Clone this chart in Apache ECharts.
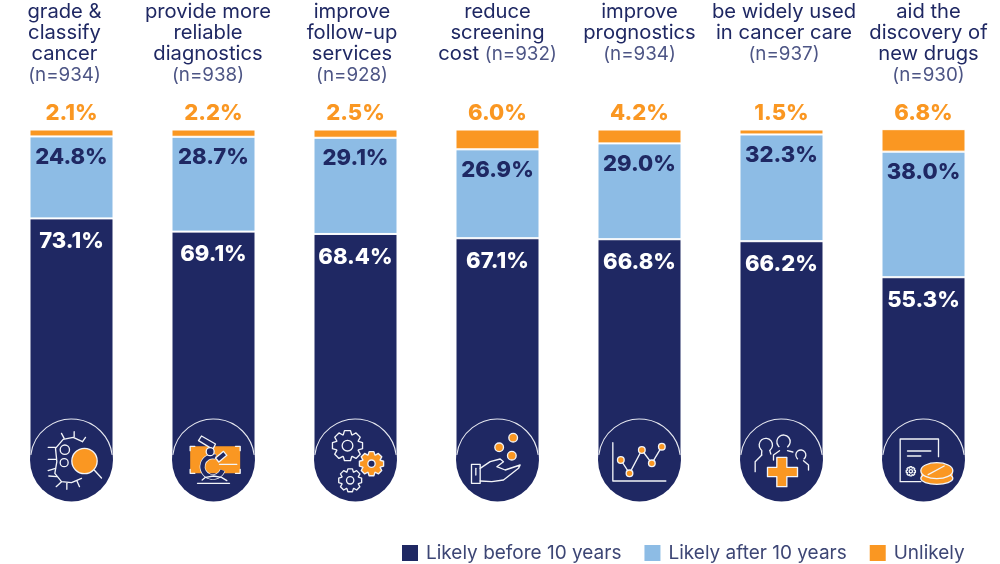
<!DOCTYPE html>
<html><head><meta charset="utf-8">
<style>html,body{margin:0;padding:0;background:#fff}#c{width:1000px;height:564px}</style>
<script src="https://cdn.jsdelivr.net/npm/echarts@6/dist/echarts.min.js"></script>
</head><body><div id="c"></div>
<script>
const categories=[
 ["grade &","classify","cancer","(n=934)"],
 ["provide more","reliable","diagnostics","(n=938)"],
 ["improve","follow-up","services","(n=928)"],
 ["reduce","screening","cost (n=932)"],
 ["improve","prognostics","(n=934)"],
 ["be widely used","in cancer care","(n=937)"],
 ["aid the","discovery of","new drugs","(n=930)"]
];
const likelyBefore=[73.1,69.1,68.4,67.1,66.8,66.2,55.3];
const likelyAfter=[24.8,28.7,29.1,26.9,29.0,32.3,38.0];
const unlikely=[2.1,2.2,2.5,6.0,4.2,1.5,6.8];
const seriesNames=["Likely before 10 years","Likely after 10 years","Unlikely"];

const NAVY='#1f2863',BLUE='#8dbce5',ORANGE='#fa9722',W='#f2f4f8';
const FONT='Inter';
// header text sits a little off each bar's centre in the reference (px, + = right)
const headerShift=[-7,-5.5,-3.5,0,0,2.5,5];

// small drawing helpers: icon parts in a 3x local space around each circle centre
const st=(fill,lw)=>({fill:fill||'none',stroke:W,lineWidth:lw||4,lineCap:'round',lineJoin:'round'});
const pl=(p,c)=>({type:'polyline',shape:{points:p},style:st(null,c)});
const pg=(p,f,c)=>({type:'polygon',shape:{points:p},style:st(f,c)});
const ci=(x,y,r,f,c)=>({type:'circle',shape:{cx:x,cy:y,r:r},style:st(f,c)});
function gear(x,y,R,hole,f){
  const pts=[],n=8,r=R*0.76;
  for(let i=0;i<n;i++){const a=i/n*Math.PI*2,d=Math.PI/n;
    [[r,-0.95],[R,-0.5],[R,0.5],[r,0.95]].forEach(q=>pts.push([x+q[0]*Math.cos(a+q[1]*d),y+q[0]*Math.sin(a+q[1]*d)]));}
  return [pg(pts,f||NAVY),ci(x,y,hole,NAVY)];
}
const icons=[
 ()=>[
  pl([[33,-55],[5,-68],[-25,-62],[-48,-35],[-44,5],[-50,40],[-30,65],[0,68],[30,55]]),
  ...[[-22,-65,-30,-80],[8,-70,8,-85],[33,-55,42,-68],[-48,-38,-70,-38],[-46,-2,-70,-2],[-48,25,-70,32],[-44,50,-68,48],[-30,65,-46,80],[-14,70,-14,88],[16,62,24,80]].map(s=>({type:'line',shape:{x1:s[0],y1:s[1],x2:s[2],y2:s[3]},style:st()})),
  ci(-20,-31,14),ci(-22,8,12),
  ci(39,3,38,ORANGE,4),
  {type:'line',shape:{x1:68,y1:30,x2:90,y2:54},style:st()}
 ],
 ()=>[
  {type:'rect',shape:{x:-70,y:-41,width:150,height:81},style:{fill:ORANGE}},
  pl([[-70,-28],[-70,-41],[-56,-41]]),pl([[66,-41],[80,-41],[80,-28]]),pl([[-70,28],[-70,40],[-56,40]]),pl([[66,40],[80,40],[80,28]]),
  {type:'arc',shape:{cx:-2,cy:20,r:31,startAngle:-1.3,endAngle:0.35,clockwise:false},style:{stroke:W,lineWidth:17,fill:'none'}},
  {type:'arc',shape:{cx:-2,cy:20,r:31,startAngle:-1.3,endAngle:0.35,clockwise:false},style:{stroke:NAVY,lineWidth:13,fill:'none'}},
  pg([[-45,-58],[-36,-72],[6,-48],[-2,-32]],NAVY),
  ci(-10,-25,12,NAVY),
  pg([[6,-6],[30,-26],[40,-14],[16,6]],NAVY),
  {type:'line',shape:{x1:18,y1:13,x2:70,y2:13},style:st()},
  pl([[-34,60],[-24,52],[0,48],[24,52],[40,62]]),
  pl([[-48,70],[48,70]])
 ],
 ()=>[...gear(-24,-43,46,16),...gear(48,11,37,11,ORANGE),...gear(-16,61,35,11)],
 ()=>[
  pg([[-78,13],[-52,13],[-52,70],[-78,70]],NAVY),
  {type:'line',shape:{x1:-65,y1:25,x2:-65,y2:45},style:st()},
  pl([[-52,25],[-22,5],[8,-3],[18,5],[-2,20],[23,30],[68,15],[63,25],[18,60],[-17,65],[-52,63]]),
  ci(5,-38,13,ORANGE),ci(47,-67,13,ORANGE),ci(43,-13,13,ORANGE)
 ],
 ()=>[
  pl([[-80,-52],[-80,63],[79,63]]),
  pl([[-56,0],[-30,40],[7,-30],[37,10],[67,-40]]),
  ...[[-56,0],[-30,40],[7,-30],[37,10],[67,-40]].map(p=>ci(p[0],p[1],10,ORANGE))
 ],
 ()=>[
  pl([[-79,35],[-79,5],[-59,-15]]),
  {type:'arc',shape:{cx:-47,cy:-45,r:20,startAngle:0.9,endAngle:2.3,clockwise:false},style:st()},
  pl([[-59,-28],[-60,-15]]),pl([[-35,-28],[-32,-18]]),
  {type:'arc',shape:{cx:6,cy:-55,r:20,startAngle:0.9,endAngle:2.3,clockwise:false},style:st()},
  pl([[-24,0],[-24,-15],[-6,-28]]),pl([[18,-28],[34,-24]]),
  {type:'arc',shape:{cx:58,cy:-15,r:15,startAngle:0.9,endAngle:2.3,clockwise:false},style:st()},
  pl([[81,30],[81,15],[66,2]]),
  pg([[-14,-8],[16,-8],[16,22],[48,22],[48,50],[16,50],[16,80],[-14,80],[-14,50],[-42,50],[-42,22],[-14,22]],ORANGE)
 ],
 ()=>[
  pl([[45,-10],[45,-63],[-70,-63],[-70,65],[-8,65]]),
  {type:'line',shape:{x1:-48,y1:-27,x2:22,y2:-27},style:st()},
  {type:'line',shape:{x1:-48,y1:-12,x2:-8,y2:-12},style:st()},
  ...gear(-38,34,14,5),
  {type:'rect',shape:{x:-8,y:30,width:96,height:25},style:{fill:ORANGE}},
  {type:'ellipse',shape:{cx:40,cy:55,rx:48,ry:18},style:st(ORANGE)},
  {type:'ellipse',shape:{cx:40,cy:32,rx:48,ry:24},style:st(ORANGE)},
  {type:'line',shape:{x1:14,y1:44,x2:62,y2:18},style:st()}
 ]
];

const barLabel=(color,dist)=>({show:true,position:'insideTop',distance:dist,color:color,fontFamily:FONT,fontWeight:800,fontSize:22,formatter:p=>p.value.toFixed(1)+'%'});
const bar=(name,data,color,label)=>({name,type:'bar',stack:'s',barWidth:84,data,itemStyle:{color,borderColor:'#fff',borderWidth:1},label,silent:true});

// one pair of rich styles per column; side padding moves the line off centre
const richStyles={};
headerShift.forEach((s,i)=>{
  const padding=[0,s<0?-2*s:0,0,s>0?2*s:0];
  richStyles['a'+i]={fontFamily:FONT,fontSize:20.2,lineHeight:21,color:'#1f2863',padding};
  richStyles['n'+i]={fontFamily:FONT,fontSize:18.8,lineHeight:21,color:'#4d5585',padding};
});
const labelLines=(c,i)=>c.map(l=>{
  const m=l.match(/^(.*?)(\(n=\d+\))$/);
  if(!m) return '{a'+i+'|'+l+'}';
  return m[1]?'{a|'+m[1]+'}{n|'+m[2]+'}':'{n'+i+'|'+m[2]+'}';
}).join('\n');

const chart=echarts.init(document.getElementById('c'),null,{renderer:'canvas'});
chart.setOption({
 animation:false,
 textStyle:{fontFamily:FONT},
 grid:{left:0.5,right:5.5,top:129.5,bottom:104},
 legend:{data:seriesNames,left:400,top:543,padding:0,itemWidth:18,itemHeight:18,itemGap:21,icon:'rect',
   textStyle:{fontFamily:FONT,fontSize:19,color:'#3d4675',padding:[0,0,0,2]}},
 xAxis:{type:'category',position:'top',data:categories.map(c=>c.join(' ')),
   axisLine:{show:false},axisTick:{show:false},
   axisLabel:{interval:0,margin:128,verticalAlign:'top',align:'center',
     formatter:(v,i)=>labelLines(categories[i],i),
     rich:Object.assign({a:{fontFamily:FONT,fontSize:20.2,lineHeight:21,color:'#1f2863'},
           n:{fontFamily:FONT,fontSize:18.8,lineHeight:21,color:'#4d5585'}},richStyles)}},
 yAxis:{type:'value',min:0,max:100,show:false},
 series:[
  bar(seriesNames[0],likelyBefore,NAVY,barLabel('#fff',12)),
  bar(seriesNames[1],likelyAfter,BLUE,barLabel(NAVY,10)),
  bar(seriesNames[2],unlikely,ORANGE,{show:true,position:'top',distance:5,color:ORANGE,fontFamily:FONT,fontWeight:800,fontSize:22,formatter:p=>p.value.toFixed(1)+'%'}),
  {type:'custom',silent:true,clip:false,z:5,
   data:categories.map((c,i)=>[i,0]),encode:{x:0,y:1},
   renderItem:(params,api)=>{
     const p=api.coord([api.value(0),api.value(1)]);
     return {type:'group',children:[
       {type:'circle',x:p[0],y:p[1],shape:{cx:0,cy:0,r:41.5},style:{fill:NAVY}},
       {type:'arc',x:p[0],y:p[1],shape:{cx:0,cy:0,r:41,startAngle:Math.PI*1.04,endAngle:Math.PI*1.96,clockwise:true},style:{fill:'none',stroke:'#e6e8f0',lineWidth:1.1}},
       {type:'group',x:p[0],y:p[1],scaleX:1/3,scaleY:1/3,children:icons[params.dataIndex]()}
     ]};
   }}
 ]
});
</script></body></html>
